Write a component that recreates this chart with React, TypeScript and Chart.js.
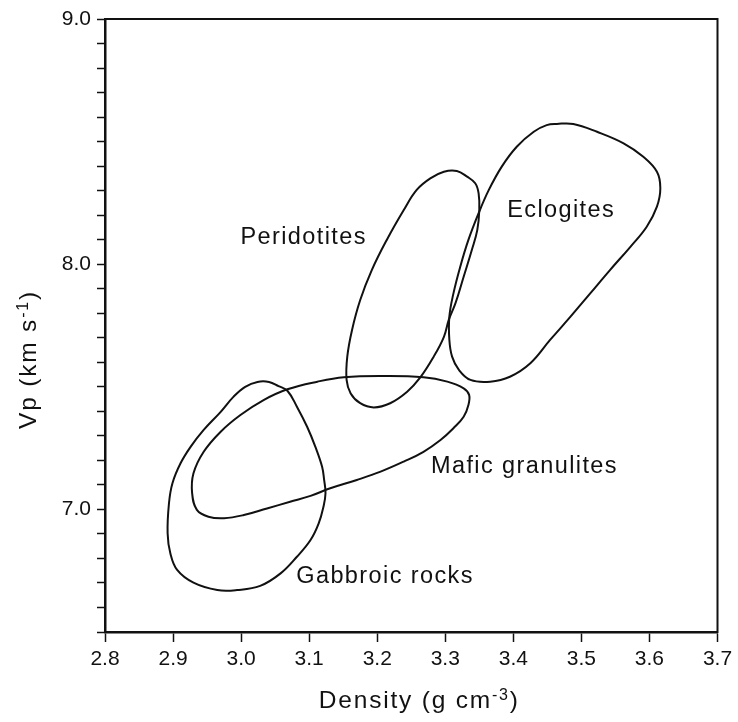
import { useEffect, useRef } from "react";
import { Chart, registerables } from "chart.js";

Chart.register(...registerables);

type Pt = [number, number];

// Axis ranges and ticks
const densityRange: [number, number] = [2.8, 3.7];
const vpRange: [number, number] = [6.5, 9.0];
const densityStep = 0.1;
const vpStep = 0.1;
const vpLabelledTicks = [7.0, 8.0, 9.0];

// Field outlines, vertices as [density g/cm3, Vp km/s], traced in order around each field
const gabbroicRocks: Pt[] = [
  [3.006, 7.5], [3.024, 7.52], [3.041, 7.52], [3.055, 7.503], [3.068, 7.484],
  [3.082, 7.419], [3.097, 7.337], [3.109, 7.256], [3.119, 7.174], [3.122, 7.12],
  [3.124, 7.066], [3.121, 7.011], [3.114, 6.943], [3.102, 6.875], [3.082, 6.807],
  [3.058, 6.739], [3.028, 6.688], [2.994, 6.671], [2.965, 6.671], [2.93, 6.701],
  [2.906, 6.753], [2.896, 6.821], [2.892, 6.903], [2.894, 7.025], [2.899, 7.106],
  [2.911, 7.188], [2.926, 7.256], [2.945, 7.324], [2.97, 7.398], [2.989, 7.46],
];

const maficGranulites: Pt[] = [
  [2.928, 7.066], [2.93, 7.147], [2.945, 7.235], [2.97, 7.317], [2.999, 7.385],
  [3.033, 7.446], [3.068, 7.49], [3.112, 7.521], [3.151, 7.539], [3.209, 7.544],
  [3.268, 7.539], [3.303, 7.521], [3.327, 7.494], [3.335, 7.467], [3.334, 7.426],
  [3.327, 7.378], [3.312, 7.331], [3.293, 7.283], [3.268, 7.235], [3.239, 7.195],
  [3.205, 7.154], [3.17, 7.12], [3.131, 7.086], [3.102, 7.055], [3.072, 7.031],
  [3.038, 7.004], [3.004, 6.977], [2.975, 6.964], [2.952, 6.97], [2.935, 6.998],
];

const peridotites: Pt[] = [
  [3.278, 8.35], [3.298, 8.377], [3.317, 8.38], [3.332, 8.357], [3.344, 8.33],
  [3.349, 8.289], [3.35, 8.221], [3.347, 8.139], [3.339, 8.058], [3.327, 7.949],
  [3.315, 7.841], [3.305, 7.772], [3.298, 7.704], [3.283, 7.623], [3.263, 7.537],
  [3.244, 7.48], [3.219, 7.433], [3.195, 7.416], [3.175, 7.433], [3.161, 7.473],
  [3.155, 7.528], [3.156, 7.623], [3.163, 7.732], [3.175, 7.854], [3.192, 7.976],
  [3.214, 8.099], [3.239, 8.221], [3.258, 8.303],
];

const eclogites: Pt[] = [
  [3.464, 8.572], [3.488, 8.572], [3.523, 8.54], [3.562, 8.493], [3.591, 8.438],
  [3.611, 8.377], [3.616, 8.31], [3.611, 8.235], [3.596, 8.153], [3.572, 8.071],
  [3.542, 7.976], [3.513, 7.881], [3.484, 7.786], [3.454, 7.691], [3.425, 7.596],
  [3.395, 7.541], [3.366, 7.521], [3.337, 7.528], [3.32, 7.569], [3.31, 7.623],
  [3.306, 7.691], [3.306, 7.786], [3.312, 7.881], [3.322, 7.99], [3.334, 8.099],
  [3.349, 8.208], [3.364, 8.303], [3.383, 8.398], [3.405, 8.479], [3.43, 8.54],
  [3.449, 8.567],
];

// Field names and where their text starts (left edge, baseline) in data units
const fieldNames = ["Gabbroic rocks", "Mafic granulites", "Peridotites", "Eclogites"];
const fieldLabelAt: Pt[] = [
  [3.081, 6.699],
  [3.279, 7.147],
  [2.999, 8.081],
  [3.391, 8.194],
];

// Axis titles, split into plain and superscript runs
const xTitleRuns: [string, boolean][] = [["Density (g cm", false], ["-3", true], [")", false]];
const yTitleRuns: [string, boolean][] = [["Vp (km s", false], ["-1", true], [")", false]];

const INK = "#111111";
const FONT = "'Liberation Sans', Arial, Helvetica, sans-serif";
const LABEL_SIZE = 23.5;
const LABEL_TRACKING = "1.4px";
const TITLE_SIZE = 24.5;
const TITLE_SUP_SIZE = 16;
const TITLE_TRACKING = "1.8px";

// A closed outline: wrap one vertex on each side so every visible segment
// gets a neighbour on both ends, and hide the two wrapping segments.
function closedRing(points: Pt[]) {
  const n = points.length;
  const seq = [points[n - 1], ...points, points[0], points[1]];
  return { data: seq.map(([x, y]) => ({ x, y })), hidden: [0, n + 1] };
}

function drawRuns(ctx: CanvasRenderingContext2D, runs: [string, boolean][], cx: number, baseline: number) {
  (ctx as any).letterSpacing = TITLE_TRACKING;
  const widths = runs.map(([t, sup]) => {
    ctx.font = `${sup ? TITLE_SUP_SIZE : TITLE_SIZE}px ${FONT}`;
    return ctx.measureText(t).width;
  });
  const total = widths.reduce((a, b) => a + b, 0);
  let x = cx - total / 2;
  runs.forEach(([t, sup], i) => {
    ctx.font = `${sup ? TITLE_SUP_SIZE : TITLE_SIZE}px ${FONT}`;
    ctx.fillText(t, x, sup ? baseline - 8 : baseline);
    x += widths[i];
  });
}

const decorPlugin = {
  id: "decor",
  afterDraw(chart: any) {
    const { ctx, chartArea: a, scales } = chart;
    ctx.save();
    // top and right sides of the frame
    ctx.strokeStyle = INK;
    ctx.lineWidth = 2;
    ctx.beginPath();
    ctx.moveTo(a.left - 1, a.top);
    ctx.lineTo(a.right, a.top);
    ctx.lineTo(a.right, a.bottom + 1);
    ctx.stroke();

    ctx.fillStyle = INK;
    ctx.textAlign = "left";
    ctx.textBaseline = "alphabetic";
    (ctx as any).letterSpacing = LABEL_TRACKING;
    ctx.font = `${LABEL_SIZE}px ${FONT}`;
    fieldNames.forEach((name, i) => {
      const [d, v] = fieldLabelAt[i];
      ctx.fillText(name, scales.x.getPixelForValue(d), scales.y.getPixelForValue(v));
    });

    drawRuns(ctx, xTitleRuns, (a.left + a.right) / 2 + 8, a.bottom + 76);
    ctx.translate(36, (a.top + a.bottom) / 2 + 34);
    ctx.rotate(-Math.PI / 2);
    drawRuns(ctx, yTitleRuns, 0, 0);
    ctx.restore();
  },
};

export default function App() {
  const ref = useRef<HTMLCanvasElement | null>(null);

  useEffect(() => {
    if (!ref.current) return;
    const fields = [gabbroicRocks, maficGranulites, peridotites, eclogites];
    const datasets = fields.map((pts, i) => {
      const ring = closedRing(pts);
      return {
        label: fieldNames[i],
        data: ring.data,
        showLine: true,
        fill: false,
        tension: 0.4,
        pointRadius: 0,
        borderWidth: 2,
        borderColor: INK,
        segment: {
          borderColor: (c: any) => (ring.hidden.includes(c.p0DataIndex) ? "rgba(0,0,0,0)" : undefined),
        },
      };
    });

    const chart = new Chart(ref.current, {
      type: "scatter",
      data: { datasets },
      plugins: [decorPlugin],
      options: {
        responsive: false,
        animation: false,
        events: [],
        layout: { padding: { top: 19, right: 20.5, left: 0, bottom: 0 } },
        plugins: {
          legend: { display: false },
          tooltip: { enabled: false },
          title: { display: false },
        },
        scales: {
          x: {
            type: "linear",
            min: densityRange[0],
            max: densityRange[1],
            afterFit: (s: any) => {
              s.height = 90;
            },
            ticks: {
              stepSize: densityStep,
              autoSkip: false,
              maxRotation: 0,
              color: INK,
              padding: 5,
              font: { size: 21, family: FONT },
              callback: (v: any) => Number(v).toFixed(1),
            },
            grid: {
              drawOnChartArea: false,
              drawTicks: true,
              tickLength: 10,
              tickWidth: 1.5,
              tickColor: INK,
            },
            border: { display: true, color: INK, width: 2.5 },
          },
          y: {
            type: "linear",
            min: vpRange[0],
            max: vpRange[1],
            afterFit: (s: any) => {
              s.width = 105;
            },
            ticks: {
              stepSize: vpStep,
              autoSkip: false,
              color: INK,
              padding: 6,
              font: { size: 21, family: FONT },
              callback: (v: any) =>
                vpLabelledTicks.some((t) => Math.abs(Number(v) - t) < 1e-6) ? Number(v).toFixed(1) : "",
            },
            grid: {
              drawOnChartArea: false,
              drawTicks: true,
              tickLength: 8,
              tickWidth: 1.5,
              tickColor: INK,
            },
            border: { display: true, color: INK, width: 2.5 },
          },
        },
      },
    } as any);

    return () => chart.destroy();
  }, []);

  return (
    <div style={{ position: "absolute", left: 0, top: 0, width: 738, height: 722, background: "#fff" }}>
      <canvas ref={ref} width={738} height={722} style={{ display: "block" }} />
    </div>
  );
}
